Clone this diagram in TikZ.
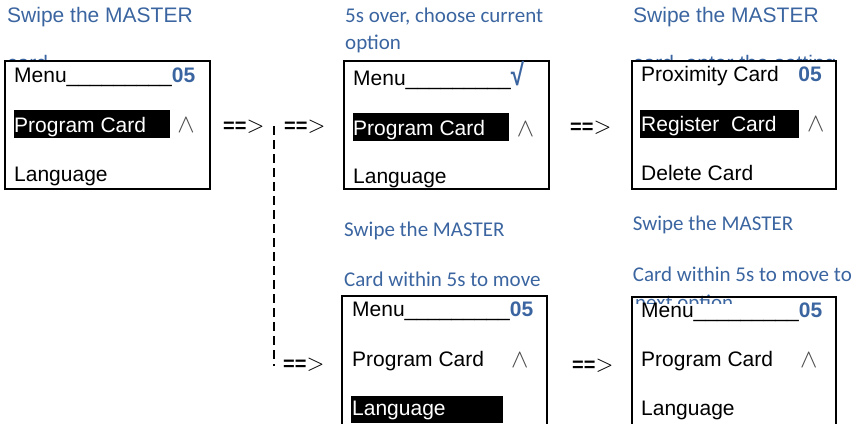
\documentclass[tikz,border=0pt]{standalone}
\usepackage{fontspec}
\setmainfont{Liberation Sans}
\newfontfamily\calfont{Carlito}
\definecolor{lblue}{RGB}{59,101,160}
\begin{document}
\begin{tikzpicture}[x=1pt,y=-1pt,
  txt/.style={anchor=base west,inner sep=0pt,font=\fontsize{21}{25}\selectfont},
  inv/.style={txt,text=white},
  lbl/.style={txt,text=lblue},
  lblc/.style={anchor=base west,inner sep=0pt,text=lblue,font=\calfont\fontsize{21}{25}\selectfont},
  hl/.style={fill=black,draw=none},
  screen/.style={draw=black,line width=1.6pt},
  wdg/.style={anchor=base,inner sep=0pt,text=black!70,font=\fontsize{10}{10}\selectfont},
  goes/.style={anchor=base west,inner sep=0pt,font=\fontsize{20}{20}\selectfont},
  dashline/.style={line width=2pt,dash pattern=on 9pt off 5pt}
]
\useasboundingbox (0,0) rectangle (861,423);
\newcommand{\numb}{\textcolor{lblue}{\bfseries 05}}
\newcommand{\goesto}{{\bfseries ==}{\fontsize{10}{10}\selectfont\scalebox{2.3}{$>$}}}
\newcommand{\wdgsym}{\scalebox{2.6}{$\wedge$}}
% ---- labels (some lines partly hidden by the screens) ----
\node[lbl] (l1a) at (7,22.7) {Swipe the MASTER};
\node[lbl] (l1b) at (7,70) {card};
\node[lblc] (l2a) at (345,22) {5s over, choose current};
\node[lblc] (l2b) at (345,49.3) {option};
\node[lbl] (l3a) at (633,22.7) {Swipe the MASTER};
\node[lbl] (l3b) at (633,70) {card, enter the setting};
\node[lblc] (l4a) at (344,236.7) {Swipe the MASTER};
\node[lblc] (l4b) at (344,286) {Card within 5s to move};
\node[lblc] (l5a) at (632.7,230.7) {Swipe the MASTER};
\node[lblc] (l5b) at (632.7,281) {Card within 5s to move to};
\node[lblc] (l5c) at (635,309) {next option};
% ---- screens ----
\fill[white] (5,61) rectangle (210,189);
\draw[screen] (5,61) rectangle (210,189);
\fill[white] (344,61) rectangle (549,189);
\draw[screen] (344,61) rectangle (549,189);
\fill[white] (632,61) rectangle (836,189);
\draw[screen] (632,61) rectangle (836,189);
\fill[white] (342,296) rectangle (547,423);
\draw[screen] (342,430) -- (342,296) -- (547,296) -- (547,430);
\fill[white] (633,303.5) rectangle (835,423);
\draw[screen] (632,430) -- (632,297) -- (836,297) -- (836,430);
% ---- highlight bars ----
\fill[hl] (14,110) rectangle (170,137.7);
\fill[hl] (353.3,113.3) rectangle (509,140.7);
\fill[hl] (640,110) rectangle (799,137.7);
\fill[hl] (351,396) rectangle (503,423);
% ---- screen 1 ----
\node[txt] (s1a) at (14,82) {Menu\_\_\_\_\_\_\_\_\_\numb};
\node[inv] (s1b) at (14,132.7) {Program Card};
\node[wdg] (w1) at (186,132.7) {\wdgsym};
\node[txt] (s1c) at (14,181) {Language};
% ---- screen 2 ----
\node[txt] (s2a) at (353,85) {Menu\_\_\_\_\_\_\_\_\_\textcolor{lblue}{\scalebox{1.15}[1.45]{\bfseries √}}};
\node[inv] (s2b) at (353,135) {Program Card};
\node[wdg] (w2) at (525.5,136) {\wdgsym};
\node[txt] (s2c) at (353,183.3) {Language};
% ---- screen 3 ----
\node[txt] (s3a) at (641,81.7) {Proximity Card};
\node[anchor=base east,inner sep=0pt,font=\fontsize{21}{25}\selectfont] (n3) at (822,81.7) {\numb};
\node[inv] (s3b) at (641,131) {Register\space\space Card};
\node[wdg] (w3) at (815.8,131.7) {\wdgsym};
\node[txt] (s3c) at (641,180) {Delete Card};
% ---- screen 4 ----
\node[txt] (s4a) at (352,316.7) {Menu\_\_\_\_\_\_\_\_\_\numb};
\node[txt] (s4b) at (352,366.7) {Program Card};
\node[wdg] (w4) at (519.8,367) {\wdgsym};
\node[inv] (s4c) at (352,415) {Language};
% ---- screen 5 ----
\node[txt] (s5a) at (641,317.3) {Menu\_\_\_\_\_\_\_\_\_\numb};
\node[txt] (s5b) at (641,366.7) {Program Card};
\node[wdg] (w5) at (808.7,367) {\wdgsym};
\node[txt] (s5c) at (641,415) {Language};
% ---- transitions ----
\node[goes] (g1) at (223,132) {\goesto};
\node[goes] (g2) at (284,132) {\goesto};
\node[goes] (g3) at (570,133) {\goesto};
\node[goes] (g4) at (283,370.5) {\goesto};
\node[goes] (g5) at (572,371) {\goesto};
\coordinate (d1) at (274,126);
\coordinate (d2) at (274,366);
\draw[dashline] (d1) -- (d2);
\end{tikzpicture}
\end{document}
